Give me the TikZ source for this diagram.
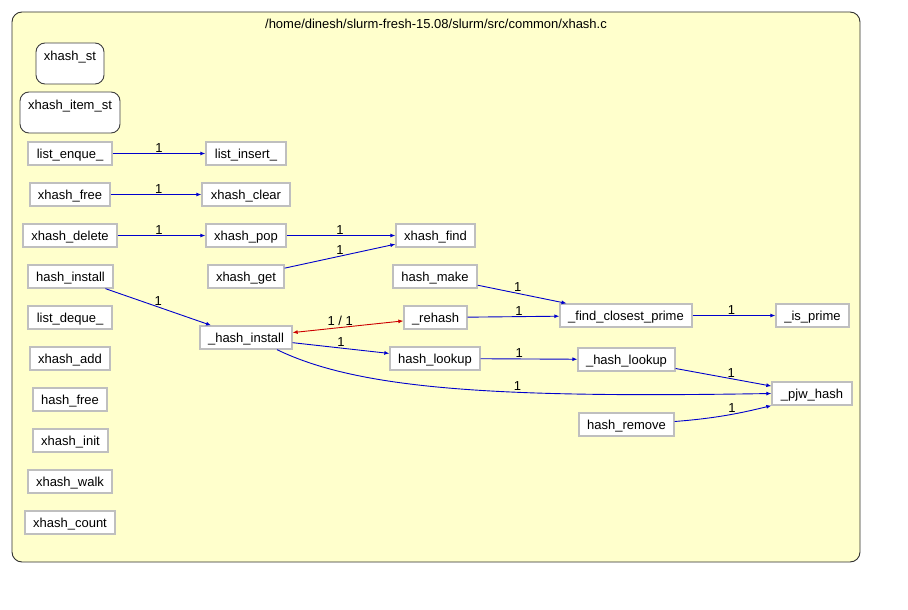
\documentclass[tikz,border=0pt]{standalone}
\usepackage{fontspec}
\setmainfont{Liberation Sans}
\usetikzlibrary{arrows.meta,calc}
\definecolor{clfill}{RGB}{255,255,204}
\definecolor{clborder}{RGB}{48,48,48}
\definecolor{fnborder}{RGB}{191,191,191}
\definecolor{stborder}{RGB}{64,64,64}
\definecolor{edgeblue}{RGB}{0,0,204}
\definecolor{edgered}{RGB}{204,0,0}
\begin{document}
\begin{tikzpicture}[x=1pt,y=-1pt,
 every node/.style={font=\fontsize{13}{15.6}\selectfont},
 cluster/.style={draw=clborder, line width=0.9pt, fill=clfill, rounded corners=10pt, inner sep=0pt},
 fn/.style={draw=fnborder, line width=1.3pt, fill=white, inner sep=0pt, minimum height=23pt, text height=9.4pt, text depth=0pt},
 st/.style={draw=stborder, line width=0.9pt, fill=white, rounded corners=9pt, align=center, inner sep=0pt, minimum height=41pt},
 call/.style={draw=edgeblue, line width=0.9pt, -{Latex[length=5pt,width=4pt]}},
 bicall/.style={draw=edgered, line width=0.9pt, {Latex[length=5pt,width=4pt]}-{Latex[length=5pt,width=4pt]}},
 lab/.style={above, inner sep=1pt, font=\fontsize{13}{15.6}\selectfont}
]
\fill[white] (0,0) rectangle (908,610);
\useasboundingbox (0,0) rectangle (908,610);
\node[cluster, minimum width=848pt, minimum height=550pt] (cl) at (436,287) {};
\node (title) at (436,23.5) {/home/dinesh/slurm-fresh-15.08/slurm/src/common/xhash.c};

% structs
\node[st, minimum width=68pt] (xst) at (70,63.5) {xhash\_st\\ \mbox{}};
\node[st, minimum width=100pt] (xist) at (70,112.5) {xhash\_item\_st\\ \mbox{}};

% functions
\node[fn, minimum width=84pt] (le) at (70,153.5) {list\_enque\_};
\node[fn, minimum width=80pt] (li) at (246,153.5) {list\_insert\_};
\node[fn, minimum width=80pt] (xf) at (70,194.5) {xhash\_free};
\node[fn, minimum width=88pt] (xc) at (246,194.5) {xhash\_clear};
\node[fn, minimum width=94pt] (xd) at (70,235.5) {xhash\_delete};
\node[fn, minimum width=80pt] (xp) at (246,235.5) {xhash\_pop};
\node[fn, minimum width=79pt] (xfi) at (435.5,235.5) {xhash\_find};
\node[fn, minimum width=85pt] (hins) at (70.5,276.5) {hash\_install};
\node[fn, minimum width=76pt] (xg) at (246,276.5) {xhash\_get};
\node[fn, minimum width=84pt] (hm) at (435,276.5) {hash\_make};
\node[fn, minimum width=84pt] (ld) at (70,317.5) {list\_deque\_};
\node[fn, minimum width=92pt] (hin) at (246,337.5) {\_hash\_install};
\node[fn, minimum width=63pt] (rh) at (435.5,317.5) {\_rehash};
\node[fn, minimum width=132pt] (fcp) at (626,315.5) {\_find\_closest\_prime};
\node[fn, minimum width=73pt] (ip) at (812.5,315.5) {\_is\_prime};
\node[fn, minimum width=80pt] (xa) at (70,358.5) {xhash\_add};
\node[fn, minimum width=90pt] (hl) at (435,358.5) {hash\_lookup};
\node[fn, minimum width=97pt] (hlk) at (626.5,359.5) {\_hash\_lookup};
\node[fn, minimum width=80pt] (pjw) at (812,393.5) {\_pjw\_hash};
\node[fn, minimum width=74pt] (hf) at (70,399.5) {hash\_free};
\node[fn, minimum width=95pt] (hr) at (626.5,424.5) {hash\_remove};
\node[fn, minimum width=75pt] (xi) at (70.5,440.5) {xhash\_init};
\node[fn, minimum width=84pt] (xw) at (70,481.5) {xhash\_walk};
\node[fn, minimum width=90pt] (xcn) at (70,522.5) {xhash\_count};

% edges
\draw[call] (le) -- node[lab, pos=0.5]{1} (li);
\draw[call] (xf) -- node[lab, pos=0.53]{1} (xc);
\draw[call] (xd) -- node[lab, pos=0.47]{1} (xp);
\draw[call] (xp) -- node[lab, pos=0.49]{1} (xfi);
\draw[call] (xg) -- node[lab, pos=0.5]{1} (xfi);
\draw[call] (hins) -- node[lab, pos=0.5]{1} (hin);
\draw[bicall] (hin) -- node[lab, pos=0.43]{1 / 1} (rh);
\draw[call] (hin) -- node[lab, pos=0.5]{1} (hl);
\draw[call] ($(hin.south)+(31,0)$) .. controls (360,390) and (500,398) .. node[lab, pos=0.625]{1} (pjw.west);
\draw[call] (hm) -- node[lab, pos=0.45]{1} (fcp);
\draw[call] (rh) -- node[lab, pos=0.56]{1} (fcp);
\draw[call] (fcp) -- node[lab, pos=0.47]{1} (ip);
\draw[call] (hl) -- node[lab, pos=0.4]{1} (hlk);
\draw[call] (hlk) -- node[lab, pos=0.58]{1} (pjw);
\draw[call] ($(hr.east)+(0,-3)$) .. controls (720,418) and (745,412) .. node[lab, pos=0.52]{1} (pjw.south west);
\end{tikzpicture}
\end{document}
